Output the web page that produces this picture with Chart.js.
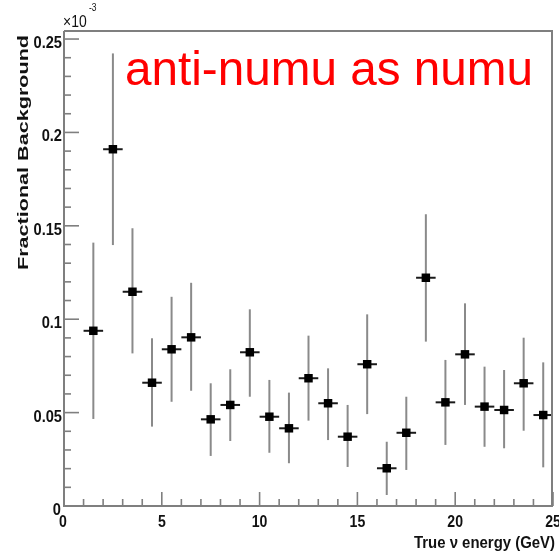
<!DOCTYPE html>
<html>
<head>
<meta charset="utf-8">
<script src="https://cdn.jsdelivr.net/npm/chart.js@4"></script>
<style>
html,body{margin:0;padding:0;background:#fff;}
#wrap{width:559px;height:559px;}
</style>
</head>
<body>
<div id="wrap"><canvas id="c" width="559" height="559"></canvas></div>
<script>
// ---- data (values in units of 1e-3) ----
const binCenters = [1.5,2.5,3.5,4.5,5.5,6.5,7.5,8.5,9.5,10.5,11.5,12.5,13.5,14.5,15.5,16.5,17.5,18.5,19.5,20.5,21.5,22.5,23.5,24.5];
const values = [0.0938,0.191,0.1147,0.066,0.0839,0.0903,0.0464,0.0541,0.0823,0.0478,0.0416,0.0684,0.055,0.0371,0.0759,0.0202,0.0392,0.1222,0.0555,0.0812,0.0532,0.0514,0.0657,0.0487];
const upperVals = [0.141,0.2423,0.1487,0.0898,0.112,0.1195,0.0657,0.0732,0.1053,0.0675,0.0607,0.0912,0.0737,0.0541,0.1026,0.0344,0.0585,0.1562,0.0782,0.1085,0.0746,0.0728,0.0901,0.0769];
const lowerVals = [0.0466,0.1397,0.0817,0.0425,0.0558,0.0617,0.0268,0.0348,0.0585,0.0285,0.0229,0.0457,0.0353,0.0209,0.0492,0.0059,0.0193,0.088,0.0327,0.0541,0.0317,0.0309,0.0403,0.0207];
const binHalfWidth = 0.5;
const xTickLabels = [0,5,10,15,20,25];
const yTickLabels = [0,0.05,0.1,0.15,0.2,0.25];
const xMinorStep = 1;
const yMinorStep = 0.01;
const titleText = "anti-numu as numu";
const xTitle = "True \u03bd energy (GeV)";
const yTitle = "Fractional Background";

const AXIS = "#7f7f7f";
const FONT = "'Liberation Sans', Arial, Helvetica, sans-serif";

function drawScaled(ctx, text, x, y, font, sx, align){
  ctx.save();
  ctx.font = font;
  ctx.translate(x, y);
  ctx.scale(sx, 1);
  ctx.textAlign = align;
  ctx.fillText(text, 0, 0);
  ctx.restore();
}

const rootPlugin = {
  id: 'rootStyle',
  beforeDatasetsDraw(chart){
    const ctx = chart.ctx, xs = chart.scales.x, ys = chart.scales.y;
    ctx.save();
    for (let i = 0; i < binCenters.length; i++){
      const px = xs.getPixelForValue(binCenters[i]);
      const py = ys.getPixelForValue(values[i]);
      ctx.strokeStyle = "#8a8a8a"; ctx.lineWidth = 2;
      ctx.beginPath();
      ctx.moveTo(px, ys.getPixelForValue(upperVals[i]));
      ctx.lineTo(px, ys.getPixelForValue(lowerVals[i]));
      ctx.stroke();
      ctx.strokeStyle = "#1a1a1a"; ctx.lineWidth = 2;
      ctx.beginPath();
      ctx.moveTo(xs.getPixelForValue(binCenters[i]-binHalfWidth), py);
      ctx.lineTo(xs.getPixelForValue(binCenters[i]+binHalfWidth), py);
      ctx.stroke();
    }
    ctx.restore();
  },
  afterDraw(chart){
    const ctx = chart.ctx, xs = chart.scales.x, ys = chart.scales.y;
    const a = chart.chartArea;
    ctx.save();
    ctx.strokeStyle = AXIS; ctx.lineWidth = 2;
    ctx.beginPath();
    ctx.moveTo(a.left, a.top); ctx.lineTo(a.right-1, a.top); ctx.lineTo(a.right-1, a.bottom);
    ctx.stroke();
    ctx.beginPath();
    ctx.moveTo(a.left, a.top); ctx.lineTo(a.left, a.bottom); ctx.lineTo(a.right, a.bottom);
    ctx.stroke();
    ctx.lineWidth = 1.6;
    const yMax = ys.max;
    for (let v = 0; v <= yMax + 1e-9; v += yMinorStep){
      const vv = Math.round(v*1000)/1000;
      const major = Math.abs(vv/0.05 - Math.round(vv/0.05)) < 1e-6;
      const py = ys.getPixelForValue(vv);
      ctx.beginPath(); ctx.moveTo(a.left, py); ctx.lineTo(a.left + (major?15:7), py); ctx.stroke();
    }
    for (let v = 0; v <= xs.max + 1e-9; v += xMinorStep){
      const major = v % 5 === 0;
      const px = xs.getPixelForValue(v);
      ctx.beginPath(); ctx.moveTo(px, a.bottom); ctx.lineTo(px, a.bottom - (major?14:7)); ctx.stroke();
    }
    ctx.fillStyle = "#111";
    ctx.textBaseline = "alphabetic";
    yTickLabels.forEach(v => {
      const py = ys.getPixelForValue(v);
      drawScaled(ctx, String(v), v === 0 ? a.left - 3 : a.left - 2, py + 9, "bold 17px " + FONT, 0.86, "right");
    });
    xTickLabels.forEach(v => {
      const px = xs.getPixelForValue(v);
      drawScaled(ctx, String(v), v === 0 ? px - 1 : px, a.bottom + 21, "bold 16px " + FONT, 0.88, "center");
    });
    drawScaled(ctx, "\u00d710", a.left - 1, 27, "17px " + FONT, 0.82, "left");
    drawScaled(ctx, "-3", a.left + 25, 11, "10px " + FONT, 0.85, "left");
    ctx.font = "bold 16px " + FONT;
    let w = ctx.measureText(xTitle).width;
    ctx.save();
    ctx.translate(555, 548);
    ctx.scale(141 / w, 1);
    ctx.textAlign = "right";
    ctx.fillText(xTitle, 0, 0);
    ctx.restore();

    ctx.font = "bold 14px " + FONT;
    w = ctx.measureText(yTitle).width;
    ctx.save();
    ctx.translate(28, 270);
    ctx.rotate(-Math.PI/2);
    ctx.scale(235 / w, 1);
    ctx.textAlign = "left";
    ctx.fillText(yTitle, 0, 0);
    ctx.restore();

    ctx.fillStyle = "#ff0000";
    ctx.font = "48px " + FONT;
    w = ctx.measureText(titleText).width;
    ctx.save();
    ctx.translate(125, 85);
    ctx.scale(408 / w, 1);
    ctx.textAlign = "left";
    ctx.fillText(titleText, 0, 0);
    ctx.restore();
    ctx.restore();
  }
};

new Chart(document.getElementById('c'), {
  type: 'scatter',
  data: {
    datasets: [{
      data: binCenters.map((x, i) => ({x: x, y: values[i]})),
      pointStyle: 'rect',
      pointRadius: 6,
      pointHoverRadius: 6,
      backgroundColor: '#000',
      borderColor: '#000',
      borderWidth: 0
    }]
  },
  options: {
    responsive: false,
    animation: false,
    events: [],
    layout: { padding: { left: 64, right: 2, top: 31, bottom: 53 } },
    plugins: { legend: { display: false }, tooltip: { enabled: false } },
    scales: {
      x: { type: 'linear', min: 0, max: 25, display: false },
      y: { type: 'linear', min: 0, max: 0.2543, display: false }
    }
  },
  plugins: [rootPlugin]
});
</script>
</body>
</html>
